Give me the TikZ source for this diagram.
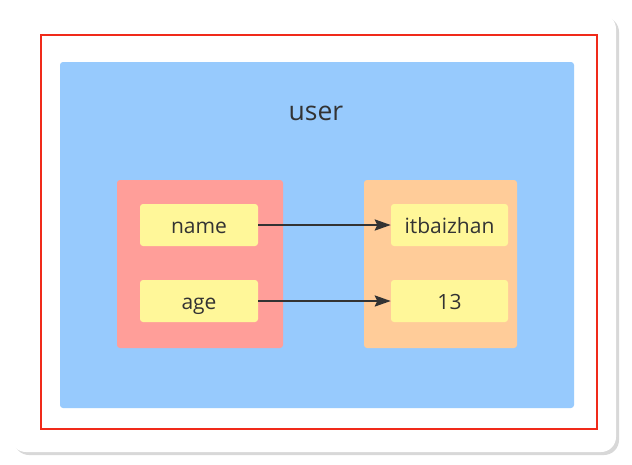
\documentclass[tikz,border=0pt]{standalone}
\usepackage{fontspec}
\setmainfont{Open Sans}
\usetikzlibrary{shadows,arrows.meta}
\definecolor{bgblue}{HTML}{97CAFD}
\definecolor{salmon}{HTML}{FF9E99}
\definecolor{peach}{HTML}{FFCC99}
\definecolor{lemon}{HTML}{FFF799}
\definecolor{txt}{HTML}{333333}
\definecolor{redline}{HTML}{F02A1A}
\tikzset{
  panel/.style={rounded corners=3pt, inner sep=0pt, draw=none},
  keybox/.style={panel, fill=lemon, minimum width=118pt, minimum height=42pt, text=txt,
    font=\fontsize{21pt}{24pt}\selectfont, text height=16pt, text depth=0pt},
  link/.style={draw=txt, line width=2.4pt, -{Stealth[length=16pt,width=11pt,inset=2.5pt]}}
}
\begin{document}
\begin{tikzpicture}[x=1pt,y=-1pt]
\useasboundingbox (0,0) rectangle (632,464);
\fill[white] (0,0) rectangle (632,464);
\node[panel, rounded corners=15pt, fill=white, minimum width=605pt, minimum height=438pt,
  drop shadow={shadow xshift=3pt, shadow yshift=-3pt, opacity=0.3, fill=gray}] (card) at (313.5,233) {};
\node[draw=redline, line width=1.3pt, inner sep=0pt, minimum width=556pt, minimum height=394pt] (frame) at (319,232) {};
\node[panel, fill=bgblue, minimum width=514pt, minimum height=346pt] (user) at (317,235) {};
\node[text=txt, font=\fontsize{26.5pt}{30pt}\selectfont, anchor=base, inner sep=0pt] (title) at (316,120) {user};
\node[panel, fill=salmon, minimum width=166pt, minimum height=168pt] (keys) at (200,264) {};
\node[panel, fill=peach, minimum width=153pt, minimum height=168pt] (vals) at (440.5,264) {};
\node[keybox] (name) at (199,225) {name};
\node[keybox] (age) at (199,301) {age};
\node[keybox, minimum width=117pt] (itb) at (449.5,225) {itbaizhan};
\node[keybox, minimum width=117pt] (num) at (449.5,301) {13};
\draw[link] (name) -- (itb);
\draw[link] (age) -- (num);
\end{tikzpicture}
\end{document}
